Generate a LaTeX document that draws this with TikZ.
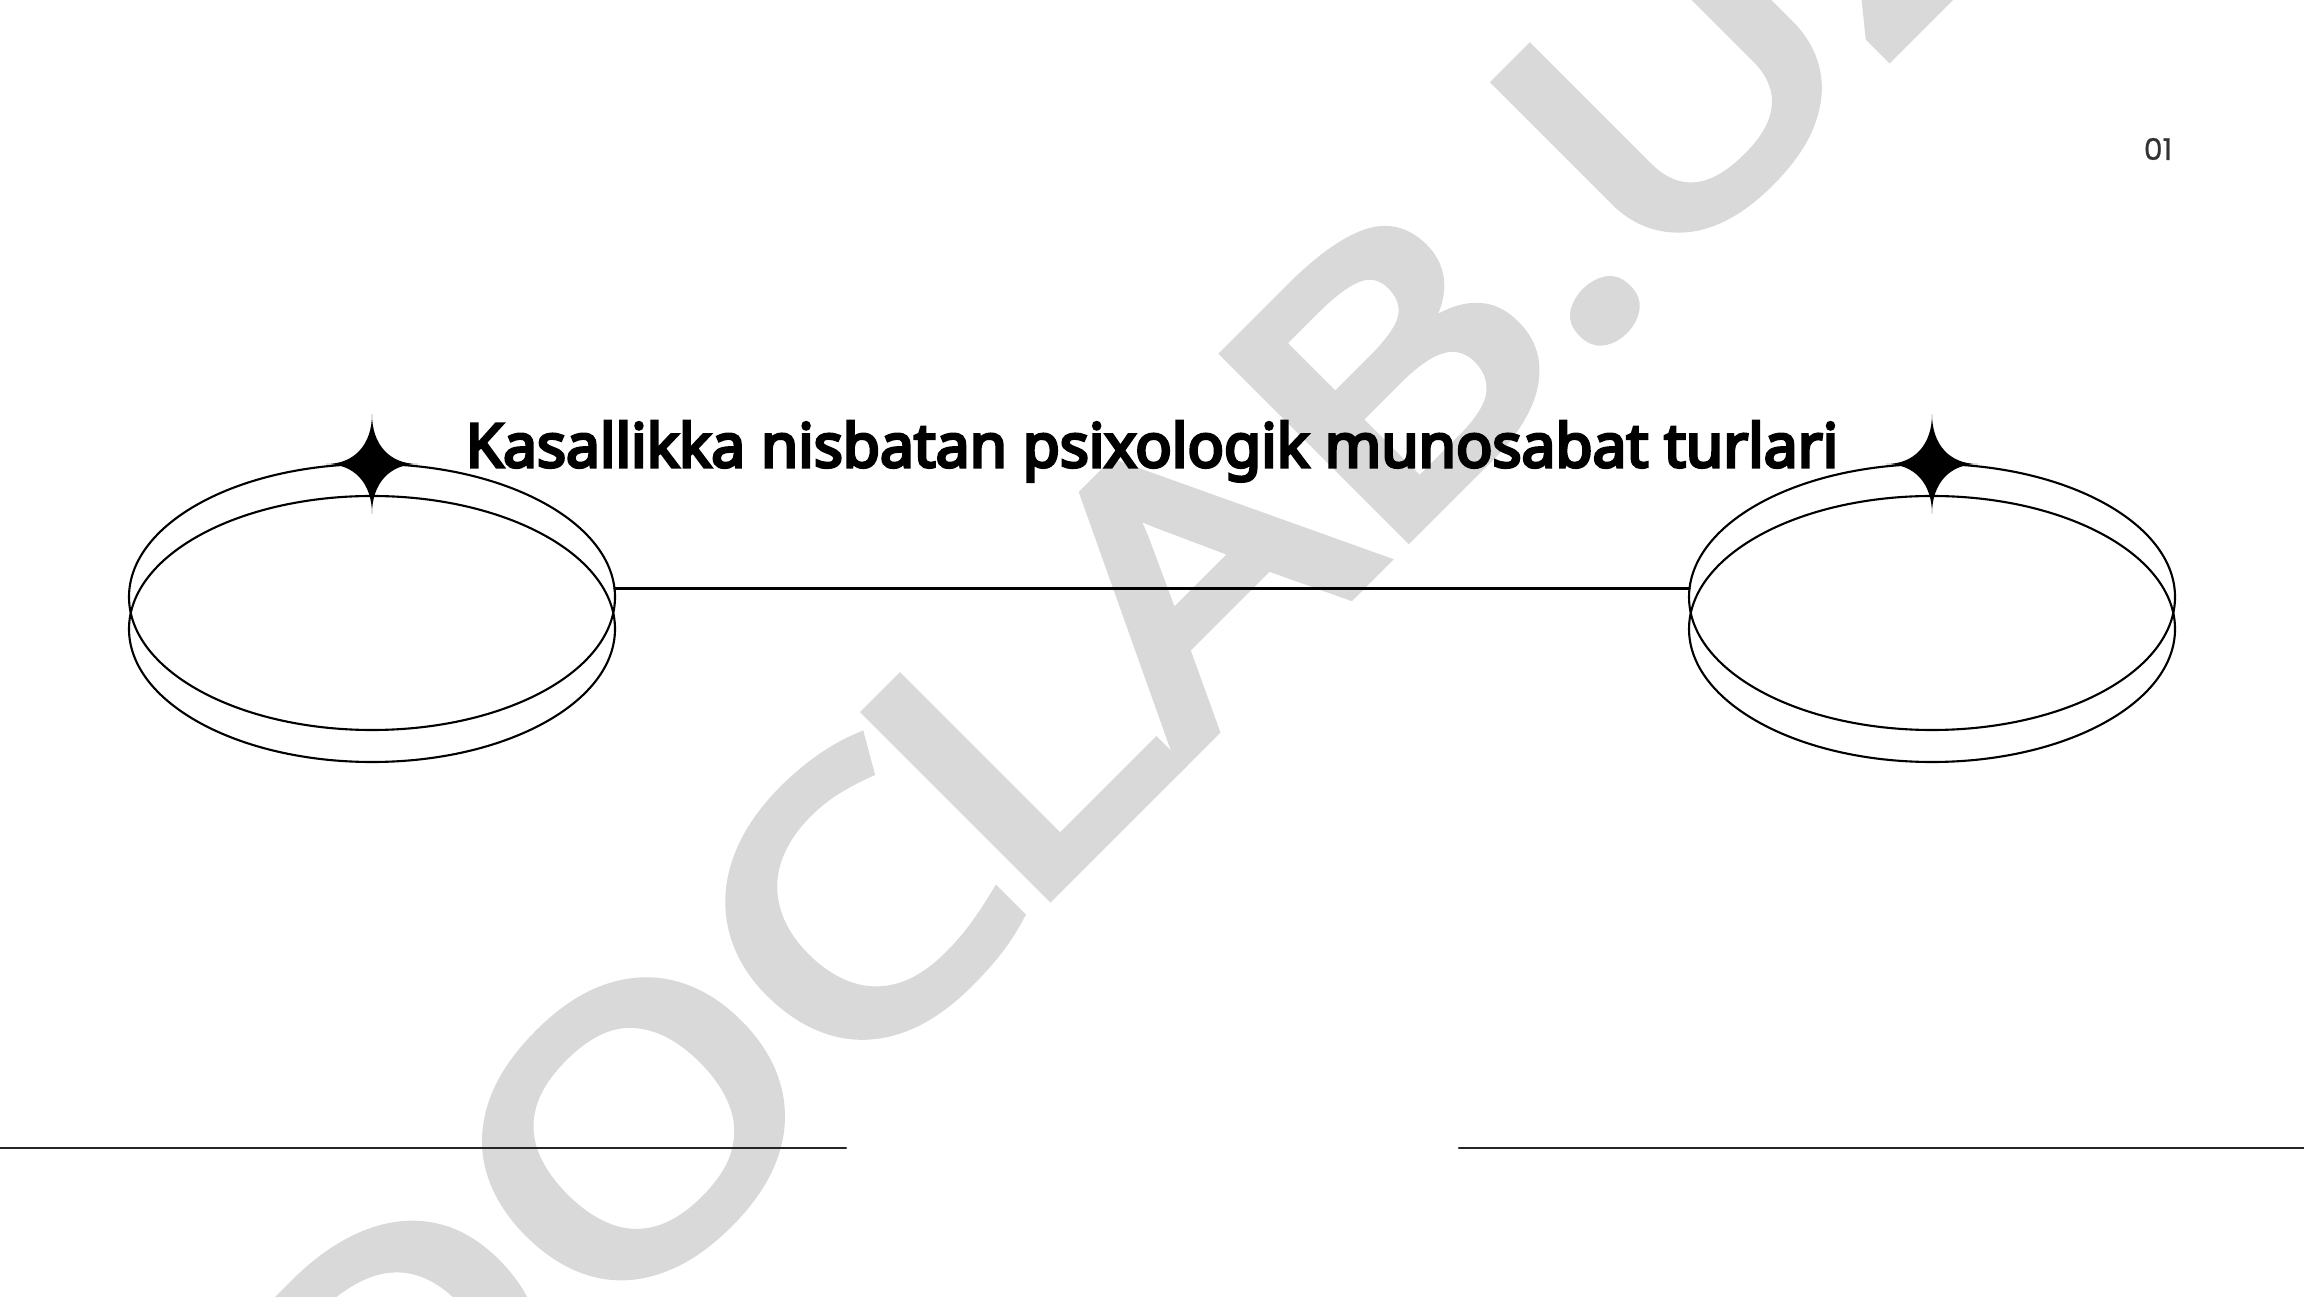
\documentclass[tikz,border=0pt]{standalone}
\usepackage{fontspec}
\setmainfont{Noto Sans}[AutoFakeBold=5]
\newfontfamily\markfont{Noto Sans}[FakeBold=4]
\newfontfamily\pagefont{Poppins}[FakeBold=0.8]
\usetikzlibrary{positioning, shapes.geometric}
\definecolor{markgray}{RGB}{217,217,217}
% four-point star centred on #1
\newcommand{\sparkle}[1]{%
    \fill[shift={(#1)}] (0,0.5) .. controls (0,0.2) and (0.17,0) .. (0.46,0)
        .. controls (0.17,0) and (0,-0.2) .. (0,-0.5)
        .. controls (0,-0.2) and (-0.17,0) .. (-0.46,0)
        .. controls (-0.17,0) and (0,0.2) .. (0,0.5) -- cycle;}

\begin{document}
\begin{tikzpicture}[
    % GLOBAL CFG
    line cap=round,
    % Styles
    disk/.style={% For the two rims of a dish
        ellipse,
        draw=black,
        line width=0.6pt,
        minimum width=4.86cm,
        minimum height=2.66cm,
        inner sep=0pt,
        outer sep=0pt,
    },
    rule/.style={% For plain lines
        draw=black!85,
        line width=0.7pt,
    },
    wmark/.style={% For the watermark (letters a bit flattened)
        text=markgray,
        font=\markfont\fontsize{124}{124}\selectfont,
        rotate=45,
        yscale=0.82,
        transform shape,
        anchor=base,
        inner sep=0pt,
    },
    title/.style={
        font=\fontsize{17.2}{20}\selectfont\bfseries,
        inner sep=0pt,
    },
    pagenum/.style={
        font=\pagefont\fontsize{8.5}{10}\selectfont,
        text=black!80,
        inner sep=0pt,
    },
    ]

    % Frame
    \useasboundingbox (0,0) rectangle (23.04,12.96);

    % Watermark
    \begin{scope}[shift={(12.17,5.70)}]
        \node [wmark] (mark) at (0,0) {DOC\kern-0.25cm LAB.UZ};
    \end{scope}

    % Draw dishes named diskL#, diskR#
    \node [disk] (diskLa) at (3.72,6.99) {};
    \node [disk] (diskLb) at (3.72,6.67) {};
    \node [disk] (diskRa) at (19.32,6.99) {};
    \node [disk] (diskRb) at (19.32,6.67) {};

    % Stars on the rims
    \sparkle{diskLa.north}
    \sparkle{diskRa.north}

    % Text
    \node [title, anchor=base] (title) at (11.52,8.29) {Kasallikka nisbatan psixologik munosabat turlari};
    \node [pagenum] (num) at (21.58,11.47) {01};

    % Connect dishes
    \draw [rule, draw=black] (diskLa.2) -- (diskRa.178);

    % Bottom rules
    \coordinate (bl1) at (0,1.48);
    \coordinate (bl2) at (8.46,1.48);
    \coordinate (br1) at (14.59,1.48);
    \coordinate (br2) at (23.04,1.48);
    \draw [rule] (bl1) -- (bl2);
    \draw [rule] (br1) -- (br2);

\end{tikzpicture}
\end{document}
